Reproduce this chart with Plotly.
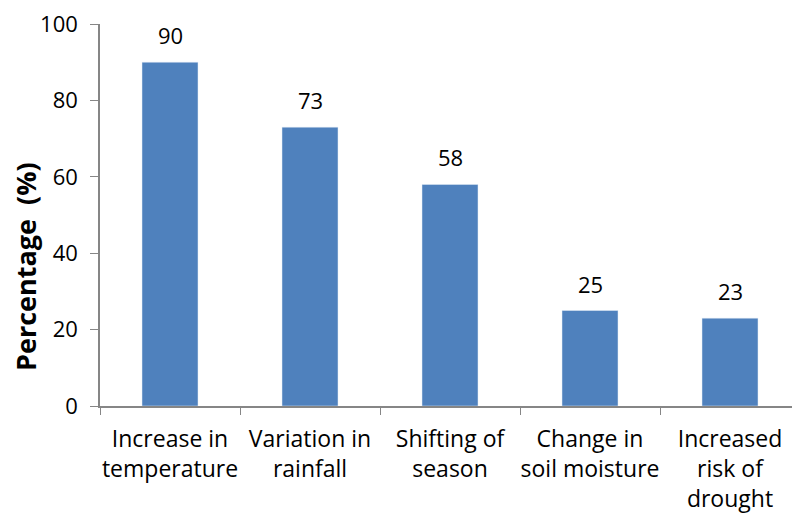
import plotly.graph_objects as go

categories = ["Increase in<br>temperature", "Variation in<br>rainfall", "Shifting of<br>season",
              "Change in<br>soil moisture", "Increased<br>risk of<br>drought"]
values = [90, 73, 58, 25, 23]
y_ticks = [0, 20, 40, 60, 80, 100]

font = "Open Sans"
fig = go.Figure(go.Bar(
    x=categories, y=values, marker_color="#4F81BD",
    cliponaxis=False,
))
for c, v in zip(categories, values):
    fig.add_annotation(x=c, y=v, text=str(v), showarrow=False, yanchor="middle",
                       yshift=27, font=dict(family=font, size=22, color="black"))
fig.add_annotation(xref="paper", yref="paper", x=(17 - 92) / 700, y=139 / 382,
                   xanchor="center", yanchor="middle", textangle=-90, showarrow=False,
                   text="<b>Percentage  (%)</b>", font=dict(family=font, size=27, color="black"))
fig.update_layout(
    width=792, height=509, paper_bgcolor="white", plot_bgcolor="white",
    margin=dict(l=92, r=0, t=16, b=111),
    bargap=0.6, showlegend=False,
    font=dict(family=font, size=21, color="black"),
)
fig.update_yaxes(
    range=[0, 100], tickvals=y_ticks, showgrid=False, zeroline=False, automargin=False,
    showline=True, linecolor="#868686", linewidth=1.5, ticklabeloverflow="allow",
    ticks="outside", ticklen=8, tickcolor="#868686", ticklabelstandoff=8,
    tickfont=dict(family=font, size=22),
)
fig.update_xaxes(
    showline=True, linecolor="#868686", linewidth=1.5, automargin=False, tickangle=0,
    ticks="outside", ticklen=7, tickcolor="#868686", tickson="boundaries",
    ticklabelstandoff=12, ticklabeloverflow="allow",
    tickfont=dict(family=font, size=23), showgrid=False,
)
fig.write_html("out.html")
